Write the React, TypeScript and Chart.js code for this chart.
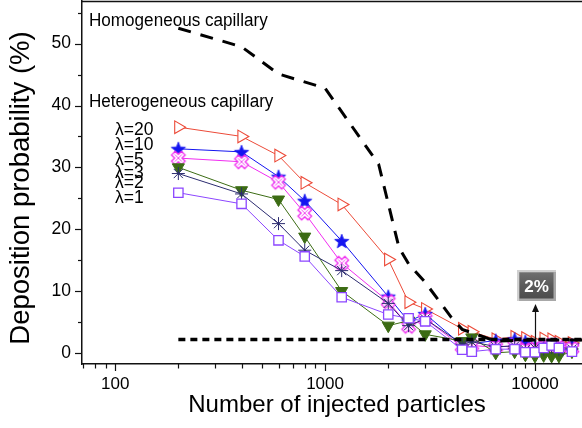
import React, { useEffect, useRef } from 'react';
import { Chart, registerables } from 'chart.js';

Chart.register(...registerables);

// ---------- data ----------
const X_VALUES = [200, 400, 600, 800, 1200, 2000, 2500, 3000, 4500, 5000, 6500, 8000, 9000, 10000, 11000, 12000, 13000, 15000];
const LAMBDA_20 = [36.5, 35.0, 31.9, 27.5, 24.0, 15.1, 8.2, 7.1, 3.9, 3.4, 2.2, 2.6, 2.4, 1.8, 2.3, 2.2, 1.8, 1.6];
const LAMBDA_10 = [33.0, 32.5, 28.5, 24.6, 18.1, 9.1, 5.1, 6.3, 1.2, 1.5, 2.0, 2.2, 1.8, 1.0, 0.8, 1.3, 0.6, 1.2];
const LAMBDA_5 = [31.5, 30.9, 27.6, 22.6, 14.5, 8.3, 4.3, 5.5, 1.0, 1.2, 0.9, 1.2, 0.5, 0.6, 0.9, 1.3, 0.9, 0.7];
const LAMBDA_3 = [30.0, 26.3, 24.8, 18.8, 10.0, 4.4, 5.2, 3.0, 1.9, 2.5, 0.0, 0.2, -0.3, -0.5, -0.4, -0.5, -0.5, 0.2];
const LAMBDA_2 = [29.0, 25.7, 20.9, 16.6, 13.3, 8.0, 4.4, 5.5, 1.4, 1.8, 1.0, 1.1, 0.5, 0.8, 0.6, 0.9, 0.5, 0.6];
const LAMBDA_1 = [25.9, 24.1, 18.2, 15.6, 9.0, 6.2, 5.6, 5.1, 0.5, 0.2, 0.6, 0.6, 0.1, 0.1, 0.8, 1.2, 0.8, 0.2];

const HOMOGENEOUS_X = [200, 400, 600, 1000, 1800, 2250, 2500, 3000, 4000, 4500, 6500, 10000, 17000];
const HOMOGENEOUS_Y = [52.5, 49.5, 45.1, 42.8, 30.5, 17.0, 14.4, 11.4, 5.7, 3.8, 1.9, 2.1, 2.1];

const THRESHOLD_X = [200, 17000];
const THRESHOLD_Y = [2.15, 2.15];

const SERIES_LABELS = ['λ=20', 'λ=10', 'λ=5', 'λ=3', 'λ=2', 'λ=1'];
const X_TICK_LABELS = [100, 1000, 10000];
const Y_TICKS = [0, 5, 10, 15, 20, 25, 30, 35, 40, 45, 50, 55];

const FONT = '"Liberation Sans", Arial, Helvetica, sans-serif';

// ---------- marker images ----------
function makeStar(color: string, outer: number, inner: number) {
  const size = Math.ceil(outer * 2 + 3);
  const c = document.createElement('canvas');
  c.width = size;
  c.height = size;
  const g = c.getContext('2d')!;
  g.translate(size / 2, size / 2 + outer * 0.1);
  g.beginPath();
  for (let i = 0; i < 10; i++) {
    const r = i % 2 === 0 ? outer : inner;
    const a = -Math.PI / 2 + (i * Math.PI) / 5;
    g.lineTo(Math.cos(a) * r, Math.sin(a) * r);
  }
  g.closePath();
  g.fillStyle = color;
  g.fill();
  g.strokeStyle = color;
  g.lineWidth = 0.8;
  g.stroke();
  return c;
}

function makeHollowX(color: string, L: number, w: number) {
  const size = Math.ceil(L * 2 + 4);
  const c = document.createElement('canvas');
  c.width = size;
  c.height = size;
  const g = c.getContext('2d')!;
  g.translate(size / 2, size / 2);
  g.rotate(Math.PI / 4);
  const pts = [
    [w, L], [w, w], [L, w], [L, -w], [w, -w], [w, -L],
    [-w, -L], [-w, -w], [-L, -w], [-L, w], [-w, w], [-w, L],
  ];
  g.beginPath();
  pts.forEach(([px, py], i) => (i === 0 ? g.moveTo(px, py) : g.lineTo(px, py)));
  g.closePath();
  g.fillStyle = '#ffffff';
  g.fill();
  g.strokeStyle = color;
  g.lineWidth = 1.3;
  g.stroke();
  g.beginPath();
  g.moveTo(-L + 2, 0);
  g.lineTo(L - 2, 0);
  g.moveTo(0, -L + 2);
  g.lineTo(0, L - 2);
  g.lineWidth = 0.8;
  g.stroke();
  return c;
}

function buildLogTicks(min: number, max: number) {
  const out: { value: number }[] = [];
  const e0 = Math.floor(Math.log10(min));
  const e1 = Math.ceil(Math.log10(max));
  for (let e = e0; e <= e1; e++) {
    for (let d = 1; d <= 9; d++) {
      const v = d * Math.pow(10, e);
      if (v >= min && v <= max) out.push({ value: v });
    }
  }
  return out;
}

function drawText(
  ctx: CanvasRenderingContext2D,
  str: string,
  x: number,
  y: number,
  size: number,
  o: { align?: CanvasTextAlign; weight?: string; color?: string; sx?: number; rot?: number } = {}
) {
  ctx.save();
  ctx.translate(x, y);
  if (o.rot) ctx.rotate(o.rot);
  ctx.scale(o.sx ?? 1, 1);
  ctx.font = `${o.weight ?? 'normal'} ${size}px ${FONT}`;
  ctx.fillStyle = o.color ?? '#000';
  ctx.textAlign = o.align ?? 'left';
  ctx.textBaseline = 'alphabetic';
  ctx.fillText(str, 0, 0);
  ctx.restore();
}

const decorPlugin = {
  id: 'decor',
  afterDraw(chart: any) {
    const { ctx, chartArea, scales } = chart;
    const xs = scales.x;
    const ys = scales.y;
    ctx.save();
    ctx.strokeStyle = '#111';
    ctx.lineWidth = 1.5;
    ctx.beginPath();
    ctx.moveTo(chartArea.left, chartArea.top + 0.5);
    ctx.lineTo(chartArea.right, chartArea.top + 0.5);
    ctx.stroke();

    ctx.lineWidth = 1.2;
    ys.ticks.forEach((t: any) => {
      const py = Math.round(ys.getPixelForValue(t.value)) + 0.5;
      const len = t.value % 10 === 0 ? 7 : 4;
      ctx.beginPath();
      ctx.moveTo(chartArea.left - len, py);
      ctx.lineTo(chartArea.left, py);
      ctx.stroke();
    });
    xs.ticks.forEach((t: any) => {
      const px = Math.round(xs.getPixelForValue(t.value)) + 0.5;
      const len = X_TICK_LABELS.includes(t.value) ? 7 : 4.5;
      ctx.beginPath();
      ctx.moveTo(px, chartArea.bottom);
      ctx.lineTo(px, chartArea.bottom + len);
      ctx.stroke();
    });

    drawText(ctx, 'Number of injected particles', 337, 412, 24, { align: 'center' });
    drawText(ctx, 'Deposition probability (%)', 29, 188, 27.5, { align: 'center', rot: -Math.PI / 2 });

    drawText(ctx, 'Homogeneous capillary', 89, 26, 18, { sx: 0.95 });
    drawText(ctx, 'Heterogeneous capillary', 89, 107, 18, { sx: 0.95 });
    const baselines = [135, 150, 165, 178, 188, 203];
    SERIES_LABELS.forEach((s, i) => drawText(ctx, s, 115, baselines[i], 17.5));

    const ax = Math.round(xs.getPixelForValue(10000)) + 0.5;
    ctx.strokeStyle = '#111';
    ctx.lineWidth = 1.2;
    ctx.beginPath();
    ctx.moveTo(ax, ys.getPixelForValue(THRESHOLD_Y[0]) + 7);
    ctx.lineTo(ax, 310);
    ctx.stroke();
    ctx.fillStyle = '#111';
    ctx.beginPath();
    ctx.moveTo(ax, 304);
    ctx.lineTo(ax - 3.5, 312);
    ctx.lineTo(ax + 3.5, 312);
    ctx.closePath();
    ctx.fill();

    const bx = 517, by = 270, bw = 39, bh = 31;
    ctx.fillStyle = '#a8a8a8';
    ctx.fillRect(bx, by, bw, bh);
    ctx.fillStyle = '#d0d0d0';
    ctx.fillRect(bx, by, bw, 2);
    ctx.fillRect(bx, by, 2, bh);
    const grad = ctx.createLinearGradient(0, by + 2, 0, by + bh - 2);
    grad.addColorStop(0, '#707070');
    grad.addColorStop(0.5, '#5a5a5a');
    grad.addColorStop(1, '#4c4c4c');
    ctx.fillStyle = grad;
    ctx.fillRect(bx + 2.5, by + 2.5, bw - 5, bh - 5);
    drawText(ctx, '2%', bx + bw / 2, by + bh / 2 + 6, 17, { align: 'center', weight: 'bold', color: '#ffffff' });
    ctx.restore();
  },
};

export default function App() {
  const ref = useRef<HTMLCanvasElement | null>(null);

  useEffect(() => {
    document.body.style.margin = '0';
    const canvas = ref.current;
    if (!canvas) return;

    const RED = '#ec4a38';
    const BLUE = '#1414f0';
    const MAGENTA = '#f02cf0';
    const GREEN = '#3c6c14';
    const NAVY = '#2c2c70';
    const PURPLE = '#8c46ff';

    const starImg = makeStar(BLUE, 7.5, 3.2);
    const xImg = makeHollowX(MAGENTA, 7, 2.6);

    const pts = (ys: number[], xv: number[]) => xv.map((x, i) => ({ x, y: ys[i] }));

    const chart = new Chart(canvas, {
      type: 'line',
      data: {
        datasets: [
          {
            label: 'Homogeneous capillary',
            data: pts(HOMOGENEOUS_Y, HOMOGENEOUS_X),
            borderColor: '#000',
            borderWidth: 3,
            borderDash: [13, 10],
            pointRadius: 0,
            order: 0,
          },
          {
            label: '2%',
            data: pts(THRESHOLD_Y, THRESHOLD_X),
            borderColor: '#000',
            borderWidth: 3.5,
            borderDash: [7, 5],
            pointRadius: 0,
            order: 0,
          },
          {
            label: SERIES_LABELS[5],
            data: pts(LAMBDA_1, X_VALUES),
            borderColor: PURPLE,
            backgroundColor: '#ffffff',
            borderWidth: 1,
            pointStyle: 'rect',
            pointRadius: 6.6,
            pointBorderWidth: 1.3,
            order: 1,
          },
          {
            label: SERIES_LABELS[4],
            data: pts(LAMBDA_2, X_VALUES),
            borderColor: NAVY,
            backgroundColor: NAVY,
            borderWidth: 1,
            pointStyle: 'star',
            pointRadius: 6.5,
            pointBorderWidth: 1,
            order: 2,
          },
          {
            label: SERIES_LABELS[3],
            data: pts(LAMBDA_3, X_VALUES),
            borderColor: GREEN,
            backgroundColor: GREEN,
            borderWidth: 1,
            pointStyle: 'triangle',
            pointRotation: 180,
            pointRadius: 7,
            pointBorderWidth: 1,
            order: 3,
          },
          {
            label: SERIES_LABELS[2],
            data: pts(LAMBDA_5, X_VALUES),
            borderColor: MAGENTA,
            backgroundColor: MAGENTA,
            borderWidth: 1,
            pointStyle: xImg as any,
            pointRadius: 6,
            order: 4,
          },
          {
            label: SERIES_LABELS[1],
            data: pts(LAMBDA_10, X_VALUES),
            borderColor: BLUE,
            backgroundColor: BLUE,
            borderWidth: 1,
            pointStyle: starImg as any,
            pointRadius: 6,
            order: 5,
          },
          {
            label: SERIES_LABELS[0],
            data: pts(LAMBDA_20, X_VALUES),
            borderColor: RED,
            backgroundColor: '#ffffff',
            borderWidth: 1,
            pointStyle: 'triangle',
            pointRotation: 90,
            pointRadius: 7.3,
            pointBorderWidth: 1.1,
            order: 6,
          },
        ],
      },
      options: {
        responsive: false,
        animation: false,
        layout: { autoPadding: false, padding: { top: 1, right: 0, bottom: 0, left: 0 } },
        plugins: { legend: { display: false }, tooltip: { enabled: false } },
        elements: { line: { tension: 0 } },
        scales: {
          x: {
            type: 'logarithmic',
            min: 69.5,
            max: 16750,
            grid: { display: false, drawTicks: false },
            border: { display: true, color: '#111', width: 1.5 },
            afterBuildTicks: (s: any) => {
              s.ticks = buildLogTicks(s.min, s.max);
            },
            afterFit: (s: any) => {
              s.height = 64;
              s.paddingLeft = 0;
              s.paddingRight = 0;
              s.paddingTop = 0;
              s.paddingBottom = 0;
            },
            ticks: {
              autoSkip: false,
              maxRotation: 0,
              padding: 10,
              color: '#000',
              font: { family: FONT, size: 17 },
              callback: (v: any) => (X_TICK_LABELS.includes(Number(v)) ? String(v) : ''),
            },
          },
          y: {
            type: 'linear',
            min: -1.8,
            max: 56.9,
            grid: { display: false, drawTicks: false },
            border: { display: true, color: '#111', width: 1.5 },
            afterBuildTicks: (s: any) => {
              s.ticks = Y_TICKS.map((v) => ({ value: v }));
            },
            afterFit: (s: any) => {
              s.width = 82;
              s.paddingLeft = 0;
              s.paddingRight = 0;
              s.paddingTop = 0;
              s.paddingBottom = 0;
            },
            ticks: {
              padding: 11,
              color: '#000',
              font: { family: FONT, size: 17.5 },
              callback: (v: any) => (Number(v) % 10 === 0 ? String(v) : ''),
            },
          },
        },
      },
      plugins: [decorPlugin],
    });

    return () => chart.destroy();
  }, []);

  return (
    <div style={{ width: 582, height: 428, background: '#fff' }}>
      <canvas ref={ref} width={582} height={428} style={{ display: 'block' }} />
    </div>
  );
}
